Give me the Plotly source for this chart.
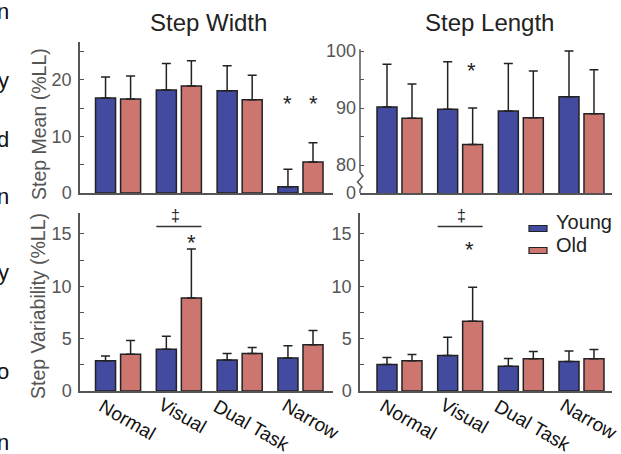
import plotly.graph_objects as go

W, H = 621, 454

# ---------------- data ----------------
conditions = ["Normal", "Visual", "Dual Task", "Narrow"]
groups = ["Young", "Old"]

# Step width mean (%LL)
sw_mean_young = [16.8, 18.2, 18.1, 1.1]
sw_mean_young_sd = [3.7, 4.7, 4.4, 3.1]
sw_mean_old = [16.6, 18.9, 16.5, 5.5]
sw_mean_old_sd = [4.1, 4.5, 4.3, 3.4]

# Step length mean (%LL)
sl_mean_young = [90.2, 89.8, 89.5, 92.0]
sl_mean_young_sd = [7.5, 8.3, 8.3, 8.0]
sl_mean_old = [88.2, 83.6, 88.3, 89.0]
sl_mean_old_sd = [6.0, 6.4, 8.2, 7.7]

# Step width variability (%LL)
sw_var_young = [2.88, 3.99, 2.97, 3.16]
sw_var_young_sd = [0.47, 1.25, 0.61, 1.15]
sw_var_old = [3.51, 8.88, 3.58, 4.41]
sw_var_old_sd = [1.31, 4.69, 0.57, 1.37]

# Step length variability (%LL)
sl_var_young = [2.52, 3.39, 2.36, 2.81]
sl_var_young_sd = [0.67, 1.75, 0.74, 1.02]
sl_var_old = [2.88, 6.65, 3.07, 3.07]
sl_var_old_sd = [0.60, 3.25, 0.70, 0.89]

panel_titles = ["Step Width", "Step Length"]
ylabels = ["Step Mean (%LL)", "Step Variability (%LL)"]
sw_mean_ticks = [0, 10, 20]
sl_mean_tickvals = [75.1, 80, 90, 100]
sl_mean_ticktext = ["0", "80", "90", "100"]
var_ticks = [0, 5, 10, 15]

BLUE = "#434ba0"
RED = "#cd7670"
EDGE = "#222222"
AX = "#555555"
FONT = "Liberation Sans, Arial, sans-serif"

def px(x):
    return x / W

def py(y):
    return 1 - y / H

fig = go.Figure()

panels = [
    (sw_mean_young, sw_mean_young_sd, sw_mean_old, sw_mean_old_sd, "x", "y"),
    (sl_mean_young, sl_mean_young_sd, sl_mean_old, sl_mean_old_sd, "x2", "y2"),
    (sw_var_young, sw_var_young_sd, sw_var_old, sw_var_old_sd, "x3", "y3"),
    (sl_var_young, sl_var_young_sd, sl_var_old, sl_var_old_sd, "x4", "y4"),
]
xidx = list(range(len(conditions)))
for yv, ysd, ov, osd, xa, ya in panels:
    for name, vals, sd, col in ((groups[0], yv, ysd, BLUE), (groups[1], ov, osd, RED)):
        fig.add_trace(go.Bar(
            x=xidx, y=vals, name=name, xaxis=xa, yaxis=ya,
            offsetgroup=name, showlegend=False,
            marker=dict(color=col, line=dict(color=EDGE, width=1.5)),
            error_y=dict(type="data", array=sd, arrayminus=[0] * len(sd),
                         symmetric=False, color=EDGE, thickness=1.5, width=4.5),
            hovertext=conditions,
        ))

# ---------------- axes ----------------
xl_left = [-0.626, 3.535]
xl_right = [-0.651, 3.503]
xcommon = dict(showline=True, linecolor=AX, linewidth=1.5, showticklabels=False,
               ticks="", showgrid=False, zeroline=False, automargin=False)
ycommon = dict(showgrid=False, zeroline=False, ticks="inside", ticklen=4,
               tickwidth=1.2, tickcolor=AX, linecolor=AX, linewidth=1.5, automargin=False,
               tickfont=dict(family=FONT, size=18, color=AX), ticklabelstandoff=3)

top_dom = [py(193), py(42)]
top_dom_r = [py(193), py(49.3)]
bot_dom = [py(391), py(213)]
left_dom = [px(80), px(333)]
right_dom = [px(360), px(612)]

fig.update_layout(
    xaxis=dict(domain=left_dom, range=xl_left, anchor="y", **xcommon),
    xaxis2=dict(domain=right_dom, range=xl_right, anchor="y2", **xcommon),
    xaxis3=dict(domain=left_dom, range=xl_left, anchor="y3", **xcommon),
    xaxis4=dict(domain=right_dom, range=xl_right, anchor="y4", **xcommon),
    yaxis=dict(domain=top_dom, range=[0, 26.7], anchor="x", showline=True,
               tickvals=sw_mean_ticks,
               minor=dict(tickvals=[5, 15, 25], ticks="inside", ticklen=4, tickcolor=AX),
               **ycommon),
    yaxis2=dict(domain=top_dom_r, range=[75.1, 100.3], anchor="x2", showline=False,
                tickvals=sl_mean_tickvals, ticktext=sl_mean_ticktext,
                minor=dict(tickvals=[85, 95], ticks="inside", ticklen=4, tickcolor=AX),
                **ycommon),
    yaxis3=dict(domain=bot_dom, range=[0, 17], anchor="x3", showline=True,
                tickvals=var_ticks,
                minor=dict(tickvals=[2.5, 7.5, 12.5], ticks="inside", ticklen=4, tickcolor=AX),
                **ycommon),
    yaxis4=dict(domain=bot_dom, range=[0, 17], anchor="x4", showline=True,
                tickvals=var_ticks,
                minor=dict(tickvals=[2.5, 7.5, 12.5], ticks="inside", ticklen=4, tickcolor=AX),
                **ycommon),
    barmode="group", bargap=0.176, bargroupgap=0.2,
    width=W, height=H, margin=dict(l=0, r=0, t=0, b=0, pad=0, autoexpand=False),
    paper_bgcolor="white", plot_bgcolor="white",
    font=dict(family=FONT),
    showlegend=False,
)

# broken y axis (Step Length mean)
fig.add_shape(type="path", xref="paper", yref="paper",
              path=(f"M {px(360)},{py(49.3)} L {px(360)},{py(172)} L {px(363)},{py(176)} "
                    f"L {px(357.5)},{py(182)} L {px(362)},{py(187)} L {px(360)},{py(189.5)} "
                    f"L {px(360)},{py(193)}"),
              line=dict(color=AX, width=1.5))

ann = []
# titles
ann.append(dict(text=panel_titles[0], x=px(208), y=py(23), xref="paper", yref="paper",
                showarrow=False, font=dict(size=24, color="#222"), xanchor="center", yanchor="middle"))
ann.append(dict(text=panel_titles[1], x=px(490), y=py(23), xref="paper", yref="paper",
                showarrow=False, font=dict(size=24, color="#222"), xanchor="center", yanchor="middle"))
# y labels
ann.append(dict(text=ylabels[0], x=px(39), y=py(124), xref="paper", yref="paper", textangle=-90,
                showarrow=False, font=dict(size=19.5, color=AX), xanchor="center", yanchor="middle"))
ann.append(dict(text=ylabels[1], x=px(38), y=py(306), xref="paper", yref="paper", textangle=-90,
                showarrow=False, font=dict(size=19.5, color=AX), xanchor="center", yanchor="middle"))

# category labels
lab_shift = [(9, 419), (4, 415), (12, 425), (11, 419)]
for xa in ("x3", "x4"):
    for i, c in enumerate(conditions):
        dx, yy = lab_shift[i]
        if xa == "x4" and i == 3:
            dx = 8
        ann.append(dict(text=c, x=i, xref=xa, y=py(yy), yref="paper", xshift=dx,
                        textangle=30, showarrow=False, font=dict(size=19, color="#111"),
                        xanchor="center", yanchor="middle"))

# significance markers
BAR_OFF = 0.206
STAR = dict(size=22, color="#222")
ann += [
    dict(text="*", x=3 - BAR_OFF, y=16.6, xref="x", yref="y", yshift=-4.8, showarrow=False, font=STAR),
    dict(text="*", x=3 + BAR_OFF, y=16.6, xref="x", yref="y", yshift=-4.8, showarrow=False, font=STAR),
    dict(text="*", x=1 + BAR_OFF, y=97.5, xref="x2", yref="y2", xshift=-1.5, yshift=-4.8, showarrow=False, font=STAR),
    dict(text="‡", x=1, y=16.76, xref="x3", yref="y3", xshift=-3.8, showarrow=False, font=dict(size=16, color="#222")),
    dict(text="*", x=1 + BAR_OFF, y=14.6, xref="x3", yref="y3", yshift=-4.8, showarrow=False, font=STAR),
    dict(text="‡", x=1, y=16.76, xref="x4", yref="y4", xshift=1.7, showarrow=False, font=dict(size=16, color="#222")),
    dict(text="*", x=1 + BAR_OFF, y=14.0, xref="x4", yref="y4", xshift=-3, yshift=-4.8, showarrow=False, font=STAR),
]
for xa, ya in (("x3", "y3"), ("x4", "y4")):
    fig.add_shape(type="line", xref=xa, yref=ya, x0=1 - 0.371, x1=1 + 0.371, y0=15.7, y1=15.7,
                  line=dict(color="#333", width=1.5))

# legend (manual)
fig.add_shape(type="rect", xref="paper", yref="paper", x0=px(529), x1=px(547), y0=py(231.5), y1=py(225.5),
              fillcolor=BLUE, line=dict(color=EDGE, width=1.2))
fig.add_shape(type="rect", xref="paper", yref="paper", x0=px(529), x1=px(547), y0=py(253.5), y1=py(247.5),
              fillcolor=RED, line=dict(color=EDGE, width=1.2))
ann.append(dict(text=groups[0], x=px(554), y=py(222), xref="paper", yref="paper", xanchor="left",
                yanchor="middle", showarrow=False, font=dict(size=20, color="#222")))
ann.append(dict(text=groups[1], x=px(554), y=py(245), xref="paper", yref="paper", xanchor="left",
                yanchor="middle", showarrow=False, font=dict(size=20, color="#222")))

# cropped text fragments along the left edge of the original figure
frag_text = ["n", "y", "d", "n", "y", "o", "n"]
frag_y = [12, 80, 140, 196, 272, 371, 442]
for t, yy in zip(frag_text, frag_y):
    ann.append(dict(text=t, x=px(11), y=py(yy), xref="paper", yref="paper", xanchor="right",
                    yanchor="middle", showarrow=False, font=dict(size=22, color="#111")))

fig.update_layout(annotations=ann)
fig.write_html("out.html", config={"displayModeBar": False},
               post_script="document.body.style.margin='0';document.body.style.overflow='hidden';")
